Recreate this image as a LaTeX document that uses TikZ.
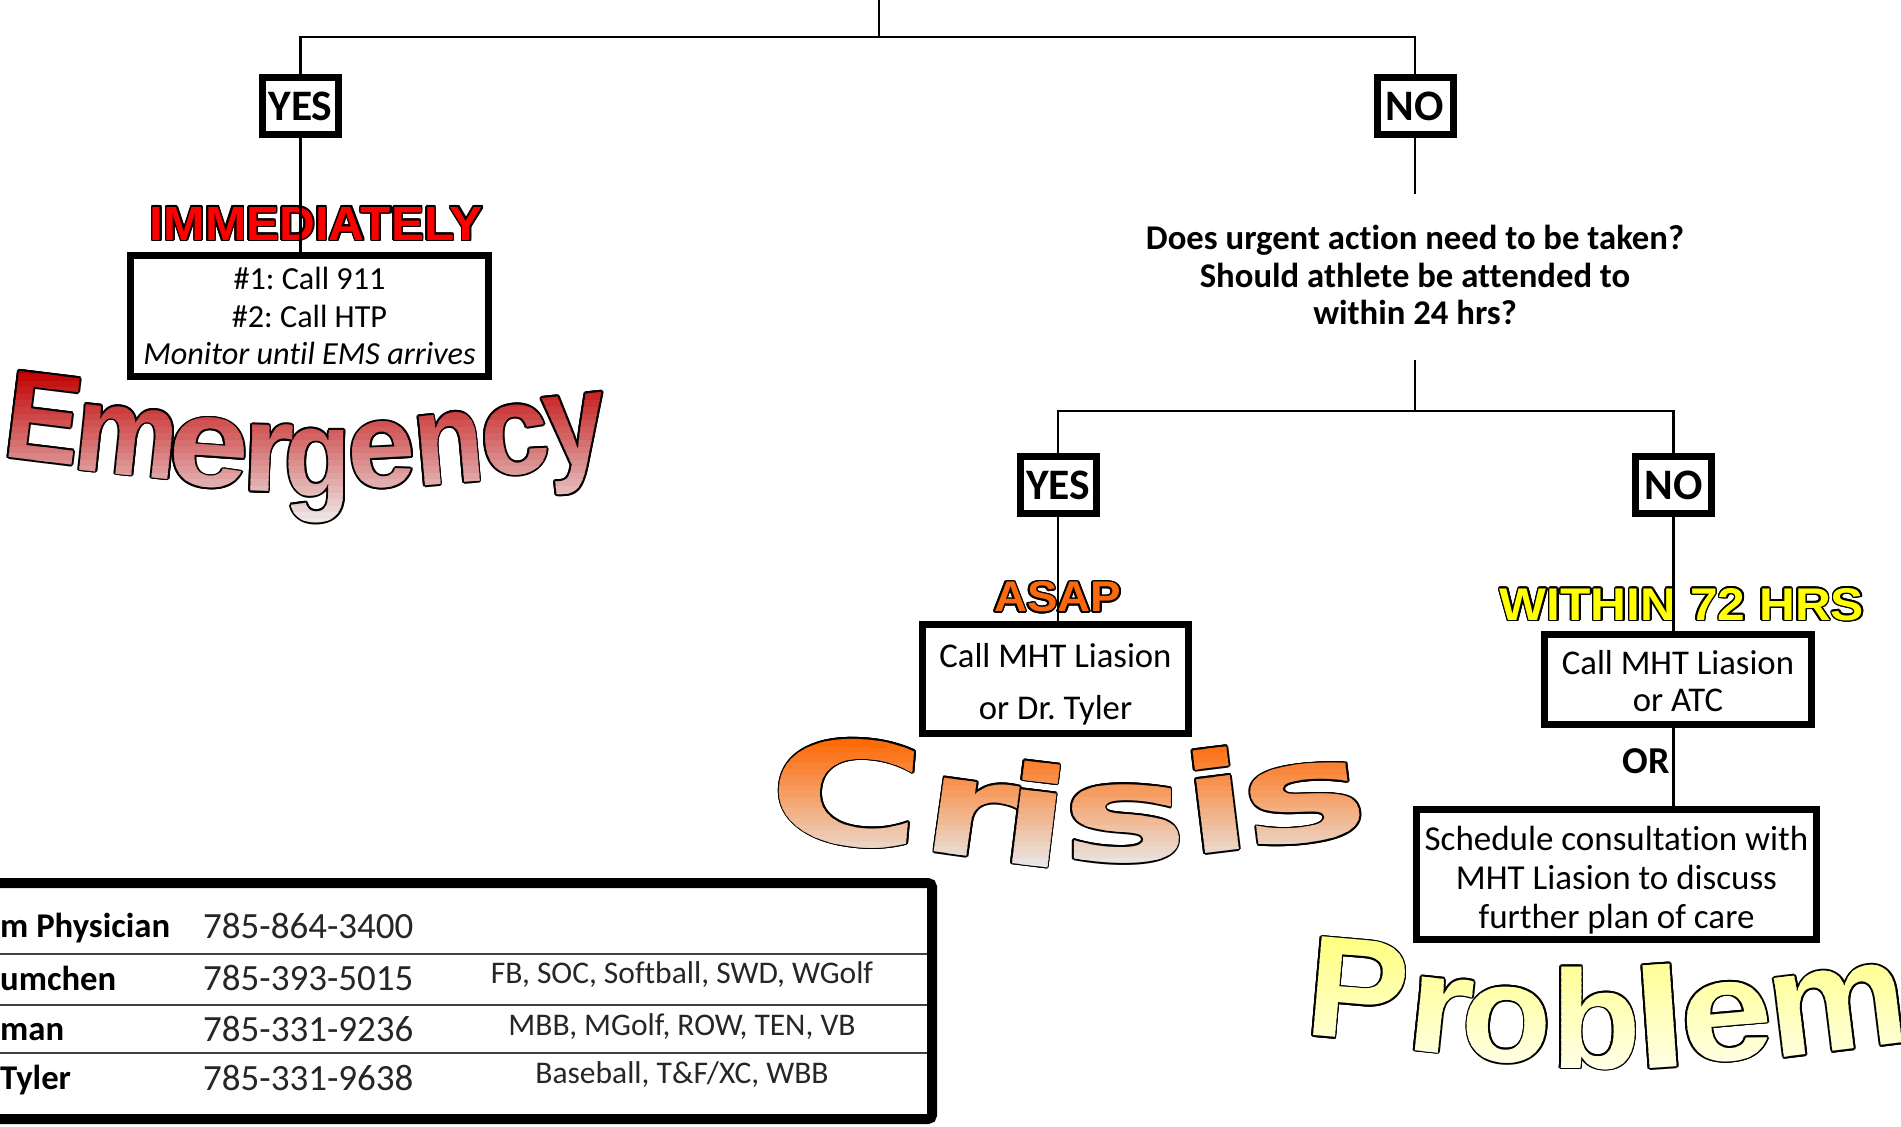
\documentclass[tikz,border=0pt]{standalone}
\usepackage{fontspec}
\usepackage{graphicx}
\setmainfont{Carlito}[Ligatures={CommonOff,ContextualOff}]
\newfontfamily\wafont{Liberation Sans}
\newfontfamily\wbfont{DejaVu Sans}
\frenchspacing
\definecolor{emtop}{RGB}{192,0,0}
\definecolor{embot}{RGB}{238,233,233}
\definecolor{crtop}{RGB}{255,102,0}
\definecolor{crbot}{RGB}{232,232,232}
\definecolor{prtop}{RGB}{255,255,130}
\definecolor{prbot}{RGB}{255,255,232}
\definecolor{imred}{RGB}{255,0,0}
\definecolor{asaporange}{RGB}{250,105,15}
\definecolor{withinyel}{RGB}{255,255,0}
\tikzset{
  conn/.style={line width=2.2pt, draw=black},
  ynbox/.style={draw=black, line width=7pt, inner sep=0pt, minimum width=76pt, minimum height=57pt,
    font=\bfseries\fontsize{43.5}{43.5}\selectfont},
  actbox/.style={draw=black, line width=7pt, inner sep=0pt, align=center, fill=white},
  qt/.style={inner sep=0pt, anchor=base, font=\bfseries\fontsize{34.7}{34.7}\selectfont},
  wa/.style={inner sep=0pt, anchor=center, font=\wafont\bfseries\fontsize{100}{100}\selectfont},
  wc/.style={inner sep=0pt, anchor=center, font=\wbfont\bfseries\fontsize{100}{100}\selectfont},
  tname/.style={inner sep=0pt, anchor=base west, font=\bfseries\fontsize{34.7}{34.7}\selectfont},
  tphone/.style={inner sep=0pt, anchor=base west, font=\fontsize{37}{37}\selectfont, text=black!85},
  tsport/.style={inner sep=0pt, anchor=base, font=\fontsize{31.5}{31.5}\selectfont, text=black!85},
  trule/.style={line width=2.5pt, draw=black!75}
}
% word-art letters
\newcommand\EmWord[1]{%
\node[wa,text=#1,rotate=-7] (emE) at (44,418) {\scalebox{1.13}[1.26]{E}};
\node[wa,text=#1,rotate=-6] (emM) at (127,441) {\scalebox{1.17}[1.25]{m}};
\node[wa,text=#1,rotate=-4] (emEa) at (209,453) {\scalebox{1.45}[1.28]{e}};
\node[wa,text=#1,rotate=-2] (emR) at (268,458) {\scalebox{1.32}[1.25]{r}};
\node[wa,text=#1,rotate=0] (emG) at (318,476) {\scalebox{1.09}[1.25]{g}};
\node[wa,text=#1,rotate=3] (emEb) at (382,455) {\scalebox{1.22}[1.21]{e}};
\node[wa,text=#1,rotate=5] (emN) at (449,448) {\scalebox{1.15}[1.31]{n}};
\node[wa,text=#1,rotate=6] (emC) at (515,440) {\scalebox{1.24}[1.28]{c}};
\node[wa,text=#1,rotate=6] (emY) at (577,444) {\scalebox{1.11}[1.33]{y}};}
\newcommand\CrWord[1]{%
\node[wc,text=#1,rotate=-5] (crC) at (847,792) {\scalebox{2.12}[1.43]{C}};
\node[wc,text=#1,rotate=-8] (crR) at (970,818) {\scalebox{1.88}[1.36]{r}};
\node[wc,text=#1,rotate=-7] (crIa) at (1036,814) {\scalebox{2.04}[1.36]{i}};
\node[wc,text=#1,rotate=0] (crSa) at (1125,824) {\scalebox{2.15}[1.37]{s}};
\node[wc,text=#1,rotate=7] (crIb) at (1216,800) {\scalebox{1.94}[1.36]{i}};
\node[wc,text=#1,rotate=7] (crSb) at (1305,804) {\scalebox{2.13}[1.37]{s}};}
\newcommand\PrWord[1]{%
\node[wa,text=#1,rotate=-5] (prP) at (1358,990) {\scalebox{1.52}[1.44]{P}};
\node[wa,text=#1,rotate=-6] (prR) at (1440,1015) {\scalebox{1.69}[1.40]{r}};
\node[wa,text=#1,rotate=-3] (prO) at (1507,1025) {\scalebox{1.48}[1.39]{o}};
\node[wa,text=#1,rotate=0] (prB) at (1596,1018) {\scalebox{1.47}[1.40]{b}};
\node[wa,text=#1,rotate=4] (prL) at (1660,1016) {\scalebox{1.96}[1.42]{l}};
\node[wa,text=#1,rotate=5] (prE) at (1727,1022) {\scalebox{1.66}[1.45]{e}};
\node[wa,text=#1,rotate=7] (prM) at (1838,1010) {\scalebox{1.57}[1.50]{m}};}
% outline + vertical gradient by bands
\newcommand\gradword[5]{%
  \foreach \a in {0,30,...,330}{\begin{scope}[shift={(\a:1.8)}]#1{black}\end{scope}}%
  \foreach \i in {0,...,23}{%
    \pgfmathsetmacro\ya{#2+(#3-#2)*\i/24}%
    \pgfmathsetmacro\yb{#2+(#3-#2)*(\i+1)/24+1}%
    \pgfmathtruncatemacro\pc{round(100*\i/23)}%
    \begin{scope}\clip (-10,\ya) rectangle (1910,\yb);#1{#5!\pc!#4}\end{scope}}}
% outlined label
\newcommand\olabel[6]{%
  \foreach \a in {0,22.5,...,337.5}{\node[inner sep=0pt] (#1o) at ([shift={(\a:1.7)}]#2) {\color{black}\resizebox{#4}{#5}{\wafont\bfseries #6}};}%
  \node[inner sep=0pt] (#1) at (#2) {\color{#3}\resizebox{#4}{#5}{\wafont\bfseries #6}};}
\begin{document}
\begin{tikzpicture}[x=1pt,y=-1pt]
\useasboundingbox (0,0) rectangle (1901,1127);
\clip (0,0) rectangle (1901,1127);
\fill[white] (0,0) rectangle (1901,1127);

% decision labels
\node[ynbox] (yes1) at (300.5,106) {YES};
\node[ynbox] (no1) at (1415,106) {NO};
\node[ynbox] (yes2) at (1058,485) {YES};
\node[ynbox] (no2) at (1673.5,485) {NO};

% question
\node[qt] (q1) at (1415,249) {Does urgent action need to be taken?};
\node[qt] (q2) at (1415,287) {Should athlete be attended to};
\node[qt] (q3) at (1415,324) {within 24 hrs?};

% word art
\gradword{\EmWord}{368}{526}{emtop}{embot}
\gradword{\CrWord}{736}{870}{crtop}{crbot}
\gradword{\PrWord}{936}{1074}{prtop}{prbot}

% action boxes
\node[actbox, minimum width=358pt, minimum height=121pt, font=\fontsize{32.2}{37.5}\selectfont] (imbox) at (309.5,316)
  {\#1: Call 911\\\#2: Call HTP\\\textit{Monitor until EMS arrives}};
\node[actbox, minimum width=266pt, minimum height=109pt, font=\fontsize{34.7}{52}\selectfont] (asapbox) at (1055.5,679)
  {\rule{0pt}{34pt}Call MHT Liasion\\or Dr. Tyler};
\node[actbox, minimum width=267pt, minimum height=90pt, font=\fontsize{34.7}{37.5}\selectfont] (withinbox) at (1678,679.5)
  {\rule{0pt}{27pt}Call MHT Liasion\\or ATC};
\node[actbox, minimum width=400pt, minimum height=130pt, font=\fontsize{35}{39}\selectfont] (schedbox) at (1616.5,874.5)
  {\rule{0pt}{36pt}Schedule consultation with\\MHT Liasion to discuss\\further plan of care};
\node[inner sep=0pt, font=\bfseries\fontsize{38}{38}\selectfont] (orlbl) at (1646,761) {OR};

% timing labels
\olabel{immed}{316.5,223.5}{imred}{333pt}{33pt}{IMMEDIATELY}
\olabel{asap}{1057.5,597}{asaporange}{127pt}{30pt}{ASAP}
\olabel{within}{1682,604.5}{withinyel}{364pt}{32pt}{WITHIN 72 HRS}

% contact table
\draw[line width=10pt, rounded corners=4pt] (-20,883) rectangle (932,1119);
\draw[trule] (0,954) -- (927,954);
\draw[trule] (0,1005) -- (927,1005);
\draw[trule] (0,1053) -- (927,1053);
\node[tname] (n1) at (0,937) {m Physician};
\node[tname] (n2) at (0,990) {umchen};
\node[tname] (n3) at (0,1040) {man};
\node[tname] (n4) at (0,1089) {Tyler};
\node[tphone] (p1) at (203,938) {785-864-3400};
\node[tphone] (p2) at (203,990) {785-393-5015};
\node[tphone] (p3) at (203,1041) {785-331-9236};
\node[tphone] (p4) at (203,1090) {785-331-9638};
\node[tsport] (s2) at (682,983) {FB, SOC, Softball, SWD, WGolf};
\node[tsport] (s3) at (682,1035) {MBB, MGolf, ROW, TEN, VB};
\node[tsport] (s4) at (682,1083) {Baseball, T\&F/XC, WBB};

% connectors
\coordinate (topend) at (879,0);
\coordinate (j1) at (879,37);
\coordinate (qa) at (1415,194);
\coordinate (qb) at (1415,360);
\coordinate (j2) at (1415,411);
\draw[conn] (topend) -- (j1);
\draw[conn] (yes1.north) |- (j1) -| (no1.north);
\draw[conn] (yes1.south) -- (yes1.south |- imbox.north);
\draw[conn] (no1.south) -- (qa);
\draw[conn] (qb) -- (j2);
\draw[conn] (yes2.north) |- (j2) -| (no2.north);
\draw[conn] (yes2.south) -- (yes2.south |- asapbox.north);
\draw[conn] (no2.south) -- (no2.south |- withinbox.north);
\draw[conn] (no2.south |- withinbox.south) -- (no2.south |- schedbox.north);
\end{tikzpicture}
\end{document}
